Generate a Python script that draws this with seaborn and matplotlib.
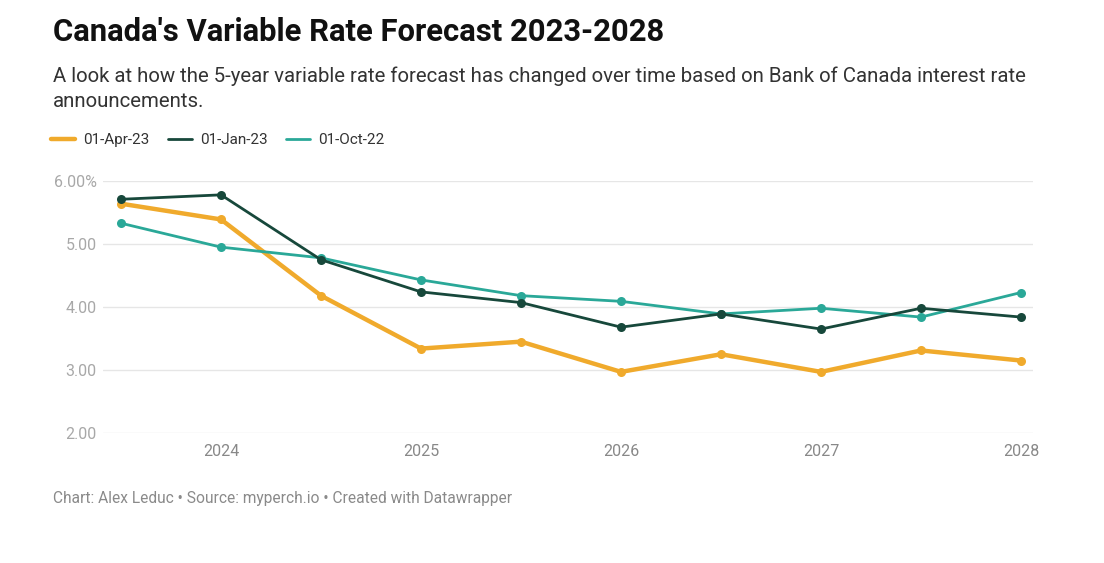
import pandas as pd
import numpy as np
import matplotlib.pyplot as plt
import seaborn as sns
from matplotlib.lines import Line2D

# half-year steps, mid 2023 to 2028
years = [2023.5, 2024, 2024.5, 2025, 2025.5, 2026, 2026.5, 2027, 2027.5, 2028]
apr_23 = [5.64, 5.39, 4.18, 3.34, 3.45, 2.97, 3.25, 2.97, 3.31, 3.15]
jan_23 = [5.71, 5.78, 4.75, 4.24, 4.07, 3.68, 3.89, 3.65, 3.98, 3.84]
oct_22 = [5.33, 4.95, 4.78, 4.43, 4.18, 4.09, 3.89, 3.98, 3.84, 4.23]
series_names = ["01-Apr-23", "01-Jan-23", "01-Oct-22"]
y_ticks = [2, 3, 4, 5, 6]
y_labels = ["2.00", "3.00", "4.00", "5.00", "6.00%"]
x_ticks = [2024, 2025, 2026, 2027, 2028]

df = pd.DataFrame({
    "year": years * 3,
    "rate": apr_23 + jan_23 + oct_22,
    "series": np.repeat(series_names, len(years)),
})

colors = {"01-Apr-23": "#f0aa2c", "01-Jan-23": "#17483b", "01-Oct-22": "#2aa898"}
widths = {"01-Apr-23": 3.2, "01-Jan-23": 2.0, "01-Oct-22": 2.0}

sns.set_style("white")
plt.rcParams['font.family'] = ['Roboto', 'DejaVu Sans']

fig = plt.figure(figsize=(11.04, 5.63), dpi=100)
ax = fig.add_axes([103 / 1104, 1 - 433 / 563, 930 / 1104, 252 / 563])

# orange underneath, dark green on top
for i, name in enumerate(["01-Apr-23", "01-Oct-22", "01-Jan-23"]):
    sns.lineplot(data=df[df["series"] == name], x="year", y="rate", ax=ax,
                 color=colors[name], lw=widths[name], marker="o", markersize=6.5,
                 markeredgewidth=0, zorder=3 + i, clip_on=False)

ax.set_xlim(2023.41, 2028.06)
ax.set_ylim(2, 6)
ax.set_yticks(y_ticks)
ax.set_yticklabels(y_labels)
ax.set_xticks(x_ticks)
ax.set_xlabel("")
ax.set_ylabel("")
for s in ax.spines.values():
    s.set_visible(False)
ax.grid(axis="y", color="#e6e6e6", lw=1)
ax.grid(axis="x", visible=False)
ax.tick_params(axis="y", length=0, pad=4.5, labelsize=11.5, labelcolor="#a8a8a8")
ax.tick_params(axis="x", length=0, pad=8, labelsize=11.5, labelcolor="#888888")

fig.text(53 / 1104, 1 - 32 / 563, "Canada's Variable Rate Forecast 2023-2028",
         fontsize=22.3, fontweight="bold", color="#111111", va="center")
fig.text(53 / 1104, 1 - 66 / 563,
         "A look at how the 5-year variable rate forecast has changed over time based on Bank of Canada interest rate\nannouncements.",
         fontsize=14.65, color="#333333", va="top", linespacing=1.45)

handles = [Line2D([0], [0], color=colors[n], lw=widths[n]) for n in series_names]
fig.legend(handles, series_names, loc="center left", bbox_to_anchor=(51 / 1104, 1 - 140 / 563),
           ncol=3, frameon=False, fontsize=11, handlelength=1.6, handletextpad=0.5,
           columnspacing=1.2, borderpad=0, borderaxespad=0, labelcolor="#333333")

fig.text(53 / 1104, 1 - 498 / 563,
         "Chart: Alex Leduc \u2022 Source: myperch.io \u2022 Created with Datawrapper",
         fontsize=11.2, color="#8a8a8a", va="center")

fig.savefig("out.png", dpi=100, facecolor="white")
